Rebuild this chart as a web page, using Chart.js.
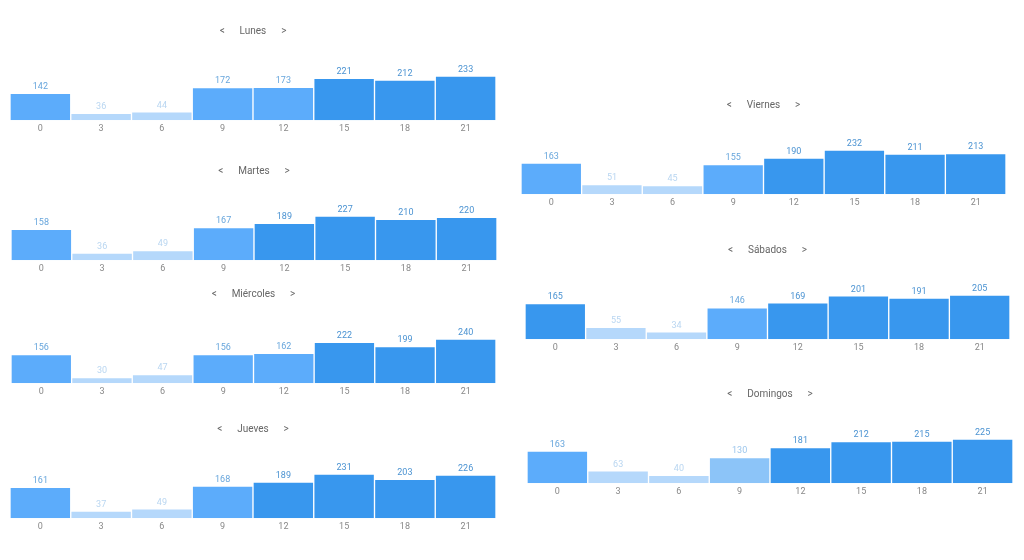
<!DOCTYPE html>
<html>
<head>
<meta charset="utf-8">
<script src="https://cdn.jsdelivr.net/npm/chart.js@4.4.1/dist/chart.umd.min.js"></script>
<style>
  html, body { margin: 0; padding: 0; background: #fff; }
  body { width: 1024px; height: 560px; position: relative; overflow: hidden; }
  .box { position: absolute; height: 124px; }
</style>
</head>
<body>
<div class="box" id="b0" style="left:10px; top:15px; width:486px;"><canvas id="c0"></canvas></div>
<div class="box" id="b1" style="left:11px; top:155px; width:486px;"><canvas id="c1"></canvas></div>
<div class="box" id="b2" style="left:11px; top:278px; width:485px;"><canvas id="c2"></canvas></div>
<div class="box" id="b3" style="left:10px; top:413px; width:486px;"><canvas id="c3"></canvas></div>
<div class="box" id="b4" style="left:521px; top:89px; width:485px;"><canvas id="c4"></canvas></div>
<div class="box" id="b5" style="left:525px; top:234px; width:485px;"><canvas id="c5"></canvas></div>
<div class="box" id="b6" style="left:527px; top:378px; width:486px;"><canvas id="c6"></canvas></div>
<script>
// horas (etiquetas del eje x)
const hours = ["0", "3", "6", "9", "12", "15", "18", "21"];

// días
const days = ["Lunes", "Martes", "Miércoles", "Jueves", "Viernes", "Sábados", "Domingos"];

// valores por día
const lunes     = [142, 36, 44, 172, 173, 221, 212, 233];
const martes    = [158, 36, 49, 167, 189, 227, 210, 220];
const miercoles = [156, 30, 47, 156, 162, 222, 199, 240];
const jueves    = [161, 37, 49, 168, 189, 231, 203, 226];
const viernes   = [163, 51, 45, 155, 190, 232, 211, 213];
const sabados   = [165, 55, 34, 146, 169, 201, 191, 205];
const domingos  = [163, 63, 40, 130, 181, 212, 215, 225];

const series = [lunes, martes, miercoles, jueves, viernes, sabados, domingos];

// color según lo alto que está respecto al máximo del día
function shade(v, max) {
    const r = v / max;
    if (r >= 0.78) return { bar: "#3897ee", txt: "#4b93d2" };
    if (r >= 0.6)  return { bar: "#5cacfb", txt: "#68a6dc" };
    if (r >= 0.45) return { bar: "#8cc4f8", txt: "#9cc6ec" };
    return { bar: "#b5d8fb", txt: "#b9d6f1" };
}

// etiquetas de valor encima de cada barra
const valueLabels = {
    id: "valueLabels",
    afterDatasetsDraw(chart) {
        const ctx = chart.ctx;
        const meta = chart.getDatasetMeta(0);
        const data = chart.data.datasets[0].data;
        const cols = chart.data.datasets[0].labelColors;
        ctx.save();
        ctx.font = "9px Roboto";
        ctx.textAlign = "center";
        ctx.textBaseline = "bottom";
        meta.data.forEach((bar, i) => {
            ctx.fillStyle = cols[i];
            ctx.fillText(String(data[i]), bar.x, bar.y - 2);
        });
        ctx.restore();
    }
};

series.forEach((vals, k) => {
    const max = Math.max(...vals);
    const cols = vals.map(v => shade(v, max));
    new Chart(document.getElementById("c" + k), {
        type: "bar",
        data: {
            labels: hours,
            datasets: [{
                data: vals,
                backgroundColor: cols.map(c => c.bar),
                labelColors: cols.map(c => c.txt),
                borderColor: "#ffffff",
                borderWidth: 1,
                barPercentage: 1,
                categoryPercentage: 1
            }]
        },
        options: {
            responsive: true,
            maintainAspectRatio: false,
            animation: false,
            layout: { padding: { left: 0, right: 0, top: 0, bottom: 2 } },
            plugins: {
                legend: { display: false },
                tooltip: { enabled: false },
                title: {
                    display: true,
                    text: "<      " + days[k] + "      >",
                    color: "#666",
                    font: { family: "Roboto", size: 10, weight: "normal" },
                    padding: { top: 10, bottom: 39 }
                }
            },
            scales: {
                x: {
                    grid: { display: false, drawTicks: false },
                    border: { display: false },
                    ticks: { color: "#888", font: { family: "Roboto", size: 9 }, padding: 3 }
                },
                y: { display: false, min: 0, max: max }
            }
        },
        plugins: [valueLabels]
    });
});
</script>
</body>
</html>
